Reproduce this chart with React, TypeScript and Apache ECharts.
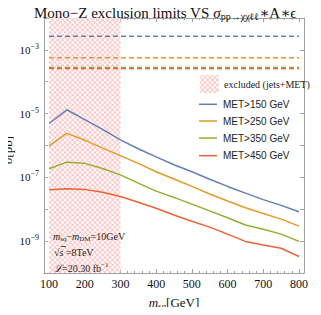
import React, { useEffect, useRef } from "react";
import * as echarts from "echarts";

const SERIF = "'Liberation Serif', 'DejaVu Serif', 'Times New Roman', serif";
const SANS = "'Liberation Sans', Arial, 'DejaVu Sans', sans-serif";

// squark mass points (GeV)
const massPoints = [100, 150, 200, 250, 300, 350, 400, 450, 500, 550, 600, 650, 700, 750, 800];

// visible cross sections sigma*A*eps (pb)
const met150 = [4.9e-6, 1.32e-5, 6.5e-6, 3.2e-6, 1.5e-6, 7.9e-7, 4.4e-7, 2.5e-7, 1.5e-7, 8.7e-8, 5.2e-8, 3.2e-8, 2.0e-8, 1.32e-8, 8.3e-9];
const met250 = [9.8e-7, 2.4e-6, 1.48e-6, 8.3e-7, 4.8e-7, 2.75e-7, 1.5e-7, 8.9e-8, 5.2e-8, 3.0e-8, 1.82e-8, 1.12e-8, 7.4e-9, 4.9e-9, 2.95e-9];
const met350 = [1.86e-7, 3.0e-7, 2.75e-7, 1.9e-7, 1.2e-7, 6.6e-8, 3.7e-8, 2.35e-8, 1.45e-8, 8.9e-9, 5.4e-9, 3.2e-9, 2.35e-9, 1.66e-9, 9.8e-10];
const met450 = [4.1e-8, 4.4e-8, 4.2e-8, 3.4e-8, 2.5e-8, 1.66e-8, 1.07e-8, 6.6e-9, 4.2e-9, 2.75e-9, 1.66e-9, 9.8e-10, 7.6e-10, 6.0e-10, 3.3e-10];

// observed exclusion limits (dashed), pb
const limitRange = [100, 800];
const limit150 = 2.7e-3;
const limit250 = 5.7e-4;
const limit350 = 2.8e-4;
const limit450 = 2.6e-4;

// jets+MET excluded region
const excludedRange = [100, 300];

const seriesNames = ["MET>150 GeV", "MET>250 GeV", "MET>350 GeV", "MET>450 GeV"];
const colors = ["#5E81B5", "#E19C24", "#8FB032", "#EB6235"];

function makePattern(): HTMLCanvasElement {
  const c = document.createElement("canvas");
  c.width = 5;
  c.height = 5;
  const ctx = c.getContext("2d")!;
  ctx.fillStyle = "#ffc4c4";
  ctx.fillRect(0, 0, 5, 5);
  ctx.fillStyle = "#ffffff";
  const pts = [
    [0, 0],
    [5, 0],
    [0, 5],
    [5, 5],
    [2.5, 2.5],
  ];
  for (const [x, y] of pts) {
    ctx.beginPath();
    ctx.arc(x, y, 1.45, 0, Math.PI * 2);
    ctx.fill();
  }
  return c;
}

export default function App() {
  const ref = useRef<HTMLDivElement>(null);

  useEffect(() => {
    if (!ref.current) return;
    const chart = echarts.init(ref.current, undefined, { renderer: "svg" });
    const pattern = { image: makePattern(), repeat: "repeat" } as any;
    const pattern2 = { image: makePattern(), repeat: "repeat" } as any;
    const frame = "#a0a0a0";
    const mainData = [met150, met250, met350, met450];
    const limits = [limit150, limit250, limit350, limit450];

    const solid = mainData.map((arr, k) => ({
      name: seriesNames[k],
      type: "line",
      symbol: "none",
      z: 5,
      lineStyle: { color: colors[k], width: 1.5 },
      data: massPoints.map((m, i) => [m, arr[i]]),
      ...(k === 0
        ? {
            markArea: {
              silent: true,
              z: 1,
              itemStyle: { color: pattern },
              data: [[{ xAxis: excludedRange[0] }, { xAxis: excludedRange[1] }]],
            },
          }
        : {}),
    }));

    const dashed = limits.map((v, k) => ({
      name: seriesNames[k] + " limit",
      type: "line",
      symbol: "none",
      z: 4,
      lineStyle: { color: colors[k], width: 1.5, type: [5, 3] },
      data: limitRange.map((m) => [m, v]),
    }));

    const xCommon = {
      type: "value",
      min: 86,
      max: 814,
      splitNumber: 7,
      axisLine: { show: true, lineStyle: { color: frame, width: 1 } },
      axisTick: { show: true, inside: true, length: 4, lineStyle: { color: frame } },
      minorTick: { show: true, splitNumber: 5, length: 2, lineStyle: { color: frame } },
      splitLine: { show: false },
      minorSplitLine: { show: false },
    };
    const yCommon = {
      type: "log",
      logBase: 10,
      min: 1e-10,
      max: 1e-2,
      splitNumber: 8,
      axisLine: { show: true, lineStyle: { color: frame, width: 1 } },
      axisTick: { show: true, inside: true, length: 4, lineStyle: { color: frame } },
      splitLine: { show: false },
    };

    const legendY = [104.3, 121, 138, 155.7];
    const legendGraphics: any[] = [];
    legendGraphics.push({
      type: "rect",
      z: 100,
      shape: { x: 200, y: 75, width: 19, height: 18 },
      style: { fill: pattern2 },
    });
    legendGraphics.push({
      type: "text",
      z: 100,
      x: 224,
      y: 84,
      style: {
        text: "excluded (jets+MET)",
        font: `10px ${SERIF}`,
        fill: "#222",
        textVerticalAlign: "middle",
      },
    });
    legendY.forEach((y, k) => {
      legendGraphics.push({
        type: "line",
        z: 100,
        shape: { x1: 199, y1: y, x2: 217, y2: y },
        style: { stroke: colors[k], lineWidth: 1.5 },
      });
      legendGraphics.push({
        type: "text",
        z: 100,
        x: 223,
        y: y,
        style: {
          text: seriesNames[k],
          font: `10px ${SANS}`,
          fill: "#222",
          textVerticalAlign: "middle",
        },
      });
    });

    const noteRich = {
      t: { fontSize: 10, fontFamily: SERIF, fill: "#222" },
      i: { fontSize: 10, fontFamily: SERIF, fontStyle: "italic", fill: "#222" },
      s: { fontSize: 7, fontFamily: SERIF, fill: "#222", padding: [5, 0, 0, 0] },
      u: { fontSize: 7, fontFamily: SERIF, fill: "#222", padding: [0, 0, 6, 0] },
    };

    chart.setOption({
      animation: false,
      title: {
        left: 29,
        top: 0,
        text: "{t|Mono−Z exclusion limits VS }{i|σ}{s|pp→χχℓℓ}{t|∗A∗ϵ}",
        textStyle: {
          fontWeight: "normal",
          rich: {
            t: { fontSize: 15, fontFamily: SERIF, color: "#111", fontWeight: "normal" },
            i: { fontSize: 15, fontFamily: SERIF, fontStyle: "italic", color: "#111", fontWeight: "normal" },
            s: { fontSize: 10, fontFamily: SERIF, color: "#111", fontWeight: "normal", padding: [6, 0, 0, 0] },
          },
        },
      },
      grid: { left: 44, right: 17, top: 18, bottom: 38, containLabel: false },
      xAxis: [
        {
          ...xCommon,
          position: "bottom",
          name: "{i|m}{s|sq}{t|[GeV]}",
          nameLocation: "middle",
          nameGap: 22,
          nameTextStyle: {
            rich: {
              t: { fontSize: 13, fontFamily: SERIF, color: "#111" },
              i: { fontSize: 13, fontFamily: SERIF, fontStyle: "italic", color: "#111" },
              s: { fontSize: 9, fontFamily: SERIF, color: "#111", padding: [6, 0, 0, 0] },
            },
          },
          axisLabel: {
            color: "#111",
            fontSize: 12,
            fontFamily: SERIF,
            margin: 5,
            showMinLabel: false,
            showMaxLabel: false,
            formatter: (v: number) => (Math.round(v) % 100 === 0 ? String(Math.round(v)) : ""),
          },
        },
        { ...xCommon, position: "top", axisLabel: { show: false } },
      ],
      yAxis: [
        {
          ...yCommon,
          position: "left",
          axisLabel: {
            margin: 5,
            formatter: (v: number) => {
              const e = Math.round(Math.log10(v));
              return Math.abs(e) % 2 === 1 ? `{b|10}{e|−${Math.abs(e)}}` : "";
            },
            rich: {
              b: { fontSize: 11, fontFamily: SERIF, color: "#111" },
              e: { fontSize: 8, fontFamily: SERIF, color: "#111", padding: [0, 0, 7, 0] },
            },
          },
        },
        { ...yCommon, position: "right", axisLabel: { show: false } },
      ],
      series: [...solid, ...dashed],
      graphic: [
        ...legendGraphics,
        {
          type: "text",
          z: 100,
          x: 53,
          y: 236,
          style: {
            text: "{i|m}{s|sq}{t|−}{i|m}{s|DM}{t|=10GeV}",
            rich: noteRich,
            textVerticalAlign: "middle",
          },
        },
        {
          type: "text",
          z: 100,
          x: 54,
          y: 252,
          style: {
            text: "{t|√}{i|s}{t| =8TeV}",
            rich: noteRich,
            textVerticalAlign: "middle",
          },
        },
        {
          type: "line",
          z: 100,
          shape: { x1: 61, y1: 246.5, x2: 66, y2: 246.5 },
          style: { stroke: "#222", lineWidth: 0.8 },
        },
        {
          type: "text",
          z: 100,
          x: 54,
          y: 268,
          style: {
            text: "{i|ℒ}{t|=20.30 fb}{u|−1}",
            rich: noteRich,
            textVerticalAlign: "middle",
          },
        },
        {
          type: "text",
          z: 100,
          x: 7,
          y: 150,
          rotation: Math.PI / 2,
          style: {
            text: "{i|σ}{t|[pb]}",
            rich: {
              t: { fontSize: 13, fontFamily: SERIF, fill: "#111" },
              i: { fontSize: 13, fontFamily: SERIF, fontStyle: "italic", fill: "#111" },
            },
            textAlign: "center",
            textVerticalAlign: "middle",
          },
        },
      ],
    });
    return () => chart.dispose();
  }, []);

  return <div ref={ref} style={{ width: 321, height: 315, margin: -8 }} />;
}
